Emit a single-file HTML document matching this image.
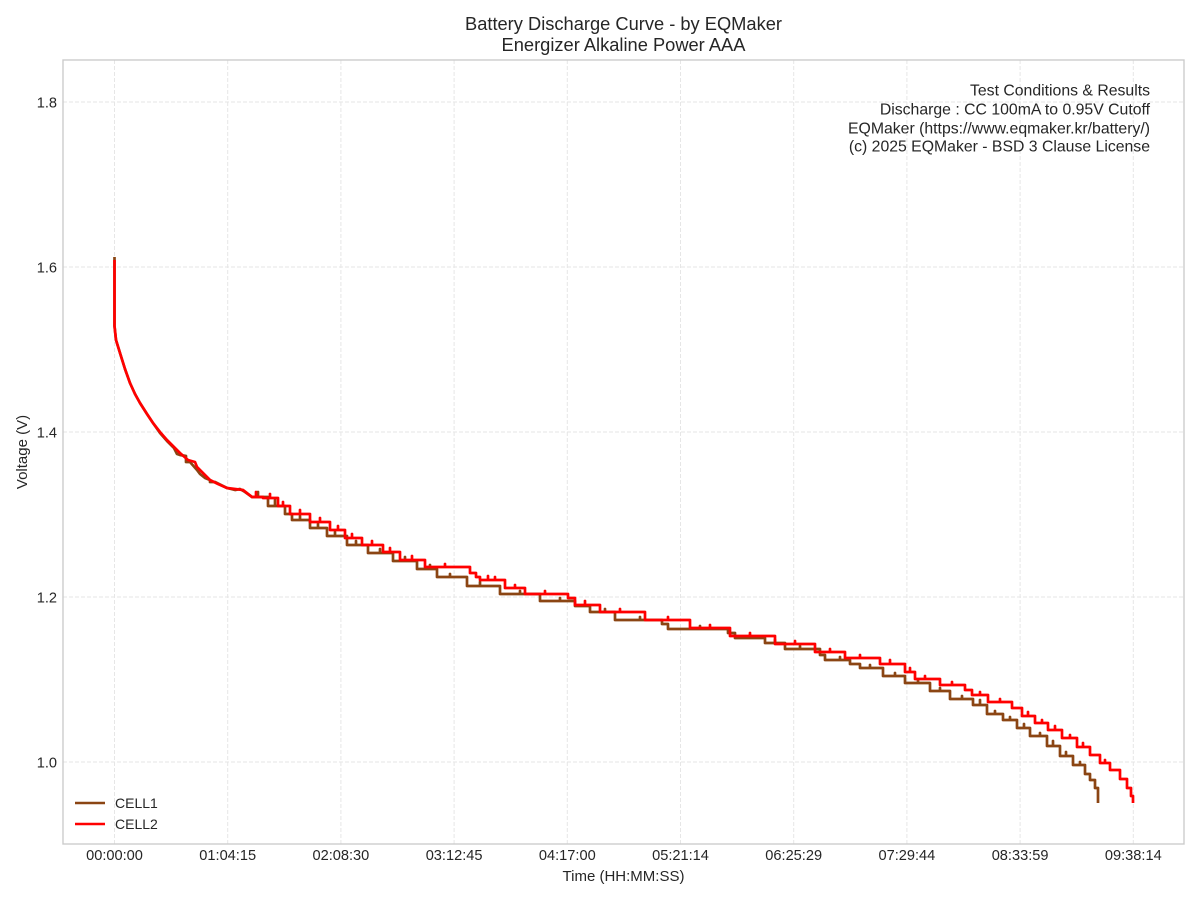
<!DOCTYPE html>
<html>
<head>
<meta charset="utf-8">
<style>
html,body{margin:0;padding:0;background:#fff;}
svg{display:block;}
text{font-family:"Liberation Sans",Arial,sans-serif;fill:#262626;}
</style>
</head>
<body>
<svg width="1200" height="900" viewBox="0 0 1200 900" xmlns="http://www.w3.org/2000/svg">
<rect x="0" y="0" width="1200" height="900" fill="#fff"/>
<!-- grid -->
<g stroke="#e6e6e6" stroke-width="1" stroke-dasharray="4,2" fill="none">
<line x1="63" y1="102" x2="1184" y2="102"/>
<line x1="63" y1="267" x2="1184" y2="267"/>
<line x1="63" y1="432" x2="1184" y2="432"/>
<line x1="63" y1="597" x2="1184" y2="597"/>
<line x1="63" y1="762" x2="1184" y2="762"/>
<line x1="114.5" y1="60" x2="114.5" y2="844"/>
<line x1="227.7" y1="60" x2="227.7" y2="844"/>
<line x1="340.9" y1="60" x2="340.9" y2="844"/>
<line x1="454.1" y1="60" x2="454.1" y2="844"/>
<line x1="567.3" y1="60" x2="567.3" y2="844"/>
<line x1="680.5" y1="60" x2="680.5" y2="844"/>
<line x1="793.7" y1="60" x2="793.7" y2="844"/>
<line x1="906.9" y1="60" x2="906.9" y2="844"/>
<line x1="1020.1" y1="60" x2="1020.1" y2="844"/>
<line x1="1133.3" y1="60" x2="1133.3" y2="844"/>
</g>
<!-- series -->
<g fill="none" stroke-width="2.7" stroke-linejoin="round" stroke-linecap="butt">
<path stroke="#8B4513" d="M114.5,257 V326 L116,340 L120,353 L125,369 L130,383 L135,394 L140,403 L147,414 L153,423 L160,433 L167,441 L174,448 L177,454 L180,455 L186,456 V462 L190,462 L197,470 L200,474 L205,478 L210,480 V482 L215,482 L227,488 L235,490 L240,489 L245,492 L252,497 H258 V492 V497 H268 V506 H275 V500 V506 H285 V514 H292 V520 H300 V516 V520 H310 V528 H318 V524 V528 H327 V536 H335 V532 V536 H347 V545 H356 V541 V545 H368 V553 H380 V549 V553 H393 V561 H405 V557 V561 H417 V569 H430 V565 V569 H437 V577 H450 V574 V577 H467 V586 H480 V582 V586 H500 V594 H520 V591 V594 H540 V601 H560 V598 V601 H575 V606 H590 V612 H605 V609 V612 H615 V620 H640 V617 V620 H662 V624 H668 V629 H700 V626 V629 H728 V633 H735 V638 H750 V635 V638 H765 V643 H775 V640 V643 H785 V649 H800 V646 V649 H820 V655 H825 V660 H840 V657 V660 H850 V664 H860 V668 H870 V665 V668 H883 V676 H895 V673 V676 H905 V683 H918 V680 V683 H930 V691 H940 V688 V691 H950 V699 H962 V696 V699 H973 V705 H980 V700 V705 H987 V714 H995 V711 V714 H1003 V720 H1010 V717 V720 H1017 V728 H1024 V724 V728 H1030 V736 H1040 V733 V736 H1047 V746 H1053 V741 V746 H1060 V756 H1066 V752 V756 H1073 V765 H1080 V762 V765 H1085 V774 H1090 V780 H1095 V788 H1098 V803"/>
<path stroke="#FF0000" d="M114.5,260 V326 L116,340 L120,353 L125,369 L130,383 L135,394 L140,403 L147,414 L153,423 L160,432 L167,440 L174,447 L180,453 L188,460 L195,462 L197,467 L204,474 L210,480 L218,484 L227,488 L243,490 L252,497 H256 V492 V497 H263 V498 H270 V494 V498 H278 V506 H283 V502 V506 H290 V514 H300 V510 V514 H310 V522 H320 V518 V522 H330 V530 H338 V526 V530 H345 V538 H352 V534 V538 H362 V545 H372 V541 V545 H383 V552 H390 V548 V552 H400 V560 H412 V556 V560 H425 V567 H445 V564 V567 H470 V573 H476 V577 H480 V580 H488 V576 V580 H495 V577 V580 H505 V588 H515 V585 V588 H525 V594 H545 V591 V594 H568 V598 H575 V605 H585 V601 V605 H600 V612 H620 V609 V612 H645 V620 H668 V617 V620 H690 V628 H710 V625 V628 H730 V636 H750 V633 V636 H775 V644 H795 V641 V644 H815 V652 H830 V649 V652 H845 V658 H860 V655 V658 H880 V664 H890 V660 V664 H905 V672 H910 V668 V672 H915 V679 H925 V676 V679 H940 V685 H952 V682 V685 H965 V690 H972 V695 H980 V692 V695 H988 V702 H1000 V699 V702 H1012 V708 H1022 V716 H1028 V712 V716 H1035 V723 H1042 V720 V723 H1048 V730 H1055 V726 V730 H1062 V738 H1070 V735 V738 H1077 V747 H1083 V743 V747 H1090 V755 H1100 V763 H1105 V760 V763 H1110 V770 H1120 V779 H1127 V788 H1131 V796 H1133 V803"/>
</g>
<!-- frame -->
<rect x="63" y="60" width="1121" height="784" fill="none" stroke="#cccccc" stroke-width="1.4"/>
<!-- y tick labels -->
<g font-size="14.6" text-anchor="end">
<text x="57" y="107.3">1.8</text>
<text x="57" y="272.3">1.6</text>
<text x="57" y="437.3">1.4</text>
<text x="57" y="602.3">1.2</text>
<text x="57" y="767.3">1.0</text>
</g>
<!-- x tick labels -->
<g font-size="14.6" text-anchor="middle">
<text x="114.5" y="860">00:00:00</text>
<text x="227.7" y="860">01:04:15</text>
<text x="340.9" y="860">02:08:30</text>
<text x="454.1" y="860">03:12:45</text>
<text x="567.3" y="860">04:17:00</text>
<text x="680.5" y="860">05:21:14</text>
<text x="793.7" y="860">06:25:29</text>
<text x="906.9" y="860">07:29:44</text>
<text x="1020.1" y="860">08:33:59</text>
<text x="1133.3" y="860">09:38:14</text>
</g>
<!-- axis labels -->
<text x="623.5" y="881" font-size="15" text-anchor="middle">Time (HH:MM:SS)</text>
<text transform="translate(27,452) rotate(-90)" font-size="15" text-anchor="middle">Voltage (V)</text>
<!-- title -->
<text x="623.5" y="30" font-size="18.3" text-anchor="middle">Battery Discharge Curve - by EQMaker</text>
<text x="623.5" y="51" font-size="18.3" text-anchor="middle">Energizer Alkaline Power AAA</text>
<!-- annotation -->
<g font-size="15.8" text-anchor="end">
<text x="1150" y="95.6">Test Conditions &amp; Results</text>
<text x="1150" y="114.6">Discharge : CC 100mA to 0.95V Cutoff</text>
<text x="1150" y="133.4">EQMaker (https://www.eqmaker.kr/battery/)</text>
<text x="1150" y="151.4">(c) 2025 EQMaker - BSD 3 Clause License</text>
</g>
<!-- legend -->
<line x1="75" y1="803" x2="105" y2="803" stroke="#8B4513" stroke-width="2.6"/>
<line x1="75" y1="824" x2="105" y2="824" stroke="#FF0000" stroke-width="2.6"/>
<g font-size="14">
<text x="115" y="808.2">CELL1</text>
<text x="115" y="829.2">CELL2</text>
</g>
</svg>
</body>
</html>
